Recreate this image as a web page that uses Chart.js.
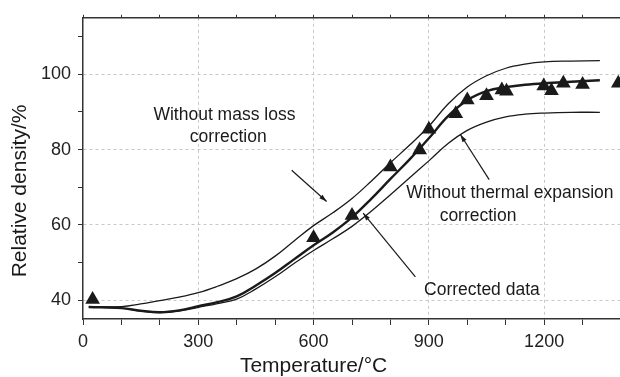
<!DOCTYPE html>
<html>
<head>
<meta charset="utf-8">
<script src="https://cdn.jsdelivr.net/npm/chart.js@4.4.1/dist/chart.umd.min.js"></script>
<style>
  html, body { margin: 0; padding: 0; background: #fff; overflow: hidden; }
  #wrap { width: 630px; height: 377px; }
</style>
</head>
<body>
<div id="wrap"><canvas id="chart" width="630" height="377"></canvas></div>
<script>
// Densification curves (temperature in °C, density in %)
const CURVE_T = [15, 100, 150, 200, 250, 300, 350, 400, 450, 500, 550, 600, 650, 700,
  750, 800, 850, 900, 950, 1000, 1050, 1100, 1150, 1200, 1270, 1345];
const NO_MASS_LOSS = [38.2, 38.3, 39.0, 39.9, 40.8, 42.0, 43.7, 45.7, 48.3, 51.7, 55.8, 59.8, 63.2, 67.0,
  71.6, 76.5, 81.2, 86.2, 92.1, 96.6, 99.6, 101.6, 102.7, 103.3, 103.5, 103.6];
const CORRECTED = [38.2, 37.9, 37.2, 36.8, 37.3, 38.4, 39.5, 41.0, 43.9, 47.2, 50.9, 54.6, 58.0, 62.0,
  66.9, 72.2, 77.4, 83.0, 88.9, 93.1, 95.5, 96.6, 97.2, 97.6, 98.0, 98.4];
const NO_THERMAL = [38.2, 37.9, 37.1, 36.7, 37.1, 38.1, 39.1, 40.3, 43.0, 46.2, 49.8, 53.2, 56.3, 59.6,
  63.6, 68.0, 72.5, 77.0, 81.6, 85.1, 87.3, 88.7, 89.4, 89.7, 89.9, 89.9];

// Measured points (triangles)
const MEAS_T = [25, 600, 700, 800, 876, 900, 970, 1000, 1050, 1090, 1102, 1199, 1219, 1250, 1300, 1393];
const MEAS_D = [40.2, 56.6, 62.5, 75.4, 79.9, 85.4, 89.5, 93.2, 94.3, 95.8, 95.5, 96.9, 95.6, 97.6, 97.3, 97.6];

const Y_TICKS = [40, 50, 60, 70, 80, 90, 100, 110];

// annotations, anchored in data units: [text, temperature, density]
const NOTE_TEXT = [
  ['Without mass loss', 368, 89.2],
  ['correction', 378, 83.2],
  ['Without thermal expansion', 1111, 68.4],
  ['correction', 1028, 62.4],
  ['Corrected data', 1038, 42.7],
];
// arrows: [fromT, fromD, toT, toD]
const NOTE_ARROWS = [
  [543, 74.5, 634, 66.2],
  [865, 46.2, 729, 63.1],
  [1057, 72.0, 982, 84.0],
];

const FONT = '"Liberation Sans", Arial, sans-serif';
const INK = '#1a1a1a';

const toXY = (xs, ys) => xs.map((x, i) => ({ x, y: ys[i] }));

const notes = {
  id: 'notes',
  afterDatasetsDraw(chart) {
    const { ctx, scales: { x, y } } = chart;
    ctx.save();
    ctx.fillStyle = INK;
    ctx.strokeStyle = INK;
    ctx.textAlign = 'center';
    ctx.textBaseline = 'middle';
    ctx.font = `17.5px ${FONT}`;
    NOTE_TEXT.forEach(([t, tx, ty]) => ctx.fillText(t, x.getPixelForValue(tx), y.getPixelForValue(ty)));

    ctx.lineWidth = 1.2;
    NOTE_ARROWS.forEach(([t0, d0, t1, d1]) => {
      const x0 = x.getPixelForValue(t0), y0 = y.getPixelForValue(d0);
      const x1 = x.getPixelForValue(t1), y1 = y.getPixelForValue(d1);
      ctx.beginPath();
      ctx.moveTo(x0, y0);
      ctx.lineTo(x1, y1);
      ctx.stroke();
      const a = Math.atan2(y1 - y0, x1 - x0);
      ctx.beginPath();
      ctx.moveTo(x1, y1);
      ctx.lineTo(x1 - 8 * Math.cos(a - 0.3), y1 - 8 * Math.sin(a - 0.3));
      ctx.lineTo(x1 - 8 * Math.cos(a + 0.3), y1 - 8 * Math.sin(a + 0.3));
      ctx.closePath();
      ctx.fill();
    });

    // axis titles
    ctx.font = `21px ${FONT}`;
    ctx.fillText('Temperature/°C', x.getPixelForValue(600), 366.5);
    ctx.translate(20, y.getPixelForValue(69));
    ctx.rotate(-Math.PI / 2);
    ctx.fillText('Relative density/%', 0, 0);
    ctx.restore();
  }
};

const curve = (data, width) => ({
  type: 'line',
  data,
  borderColor: INK,
  borderWidth: width,
  pointRadius: 0,
  fill: false,
  tension: 0.4,
});

new Chart(document.getElementById('chart'), {
  type: 'line',
  data: {
    datasets: [
      {
        label: 'Measured',
        data: toXY(MEAS_T, MEAS_D),
        showLine: false,
        pointStyle: 'triangle',
        pointRadius: 8.5,
        pointBackgroundColor: INK,
        pointBorderColor: INK,
        pointBorderWidth: 0,
      },
      curve(toXY(CURVE_T, NO_MASS_LOSS), 1.3),
      curve(toXY(CURVE_T, CORRECTED), 2.4),
      curve(toXY(CURVE_T, NO_THERMAL), 1.3),
    ],
  },
  options: {
    responsive: false,
    devicePixelRatio: 1,
    animation: false,
    layout: { padding: { left: 0, right: 9, top: 0, bottom: 0 } },
    plugins: { legend: { display: false }, tooltip: { enabled: false } },
    scales: {
      x: {
        type: 'linear',
        position: 'bottom',
        min: 0,
        max: 1400,
        afterFit: s => { s.height = 58; },
        ticks: {
          stepSize: 100,
          autoSkip: false,
          maxRotation: 0,
          padding: 6,
          color: '#222',
          font: { size: 18, family: FONT },
          callback: v => (v % 300 === 0 ? v : ''),
        },
        grid: {
          color: c => (c.tick && c.tick.value % 300 === 0 && c.tick.value > 0 ? '#c8c8c8' : 'rgba(0,0,0,0)'),
          tickColor: '#333',
          tickLength: 6,
          lineWidth: 1,
        },
        border: { color: '#333', width: 1.5, dash: [3, 3] },
      },
      x2: {
        type: 'linear',
        position: 'top',
        min: 0,
        max: 1400,
        afterFit: s => { s.height = 13; },
        ticks: { stepSize: 100, display: false },
        grid: { drawOnChartArea: false, tickColor: '#333', tickLength: 3 },
        border: { color: '#333', width: 1.5 },
      },
      y: {
        type: 'linear',
        min: 35,
        max: 115,
        afterFit: s => { s.width = 83; },
        afterBuildTicks: s => { s.ticks = Y_TICKS.map(v => ({ value: v })); },
        ticks: {
          padding: 7,
          color: '#222',
          font: { size: 18, family: FONT },
          callback: v => (v % 20 === 0 ? v : ''),
        },
        grid: {
          color: c => (c.tick && c.tick.value % 20 === 0 ? '#c8c8c8' : 'rgba(0,0,0,0)'),
          tickColor: '#333',
          tickLength: 5,
          lineWidth: 1,
        },
        border: { color: '#333', width: 1.5, dash: [3, 3] },
      },
    },
  },
  plugins: [notes],
});
</script>
</body>
</html>
